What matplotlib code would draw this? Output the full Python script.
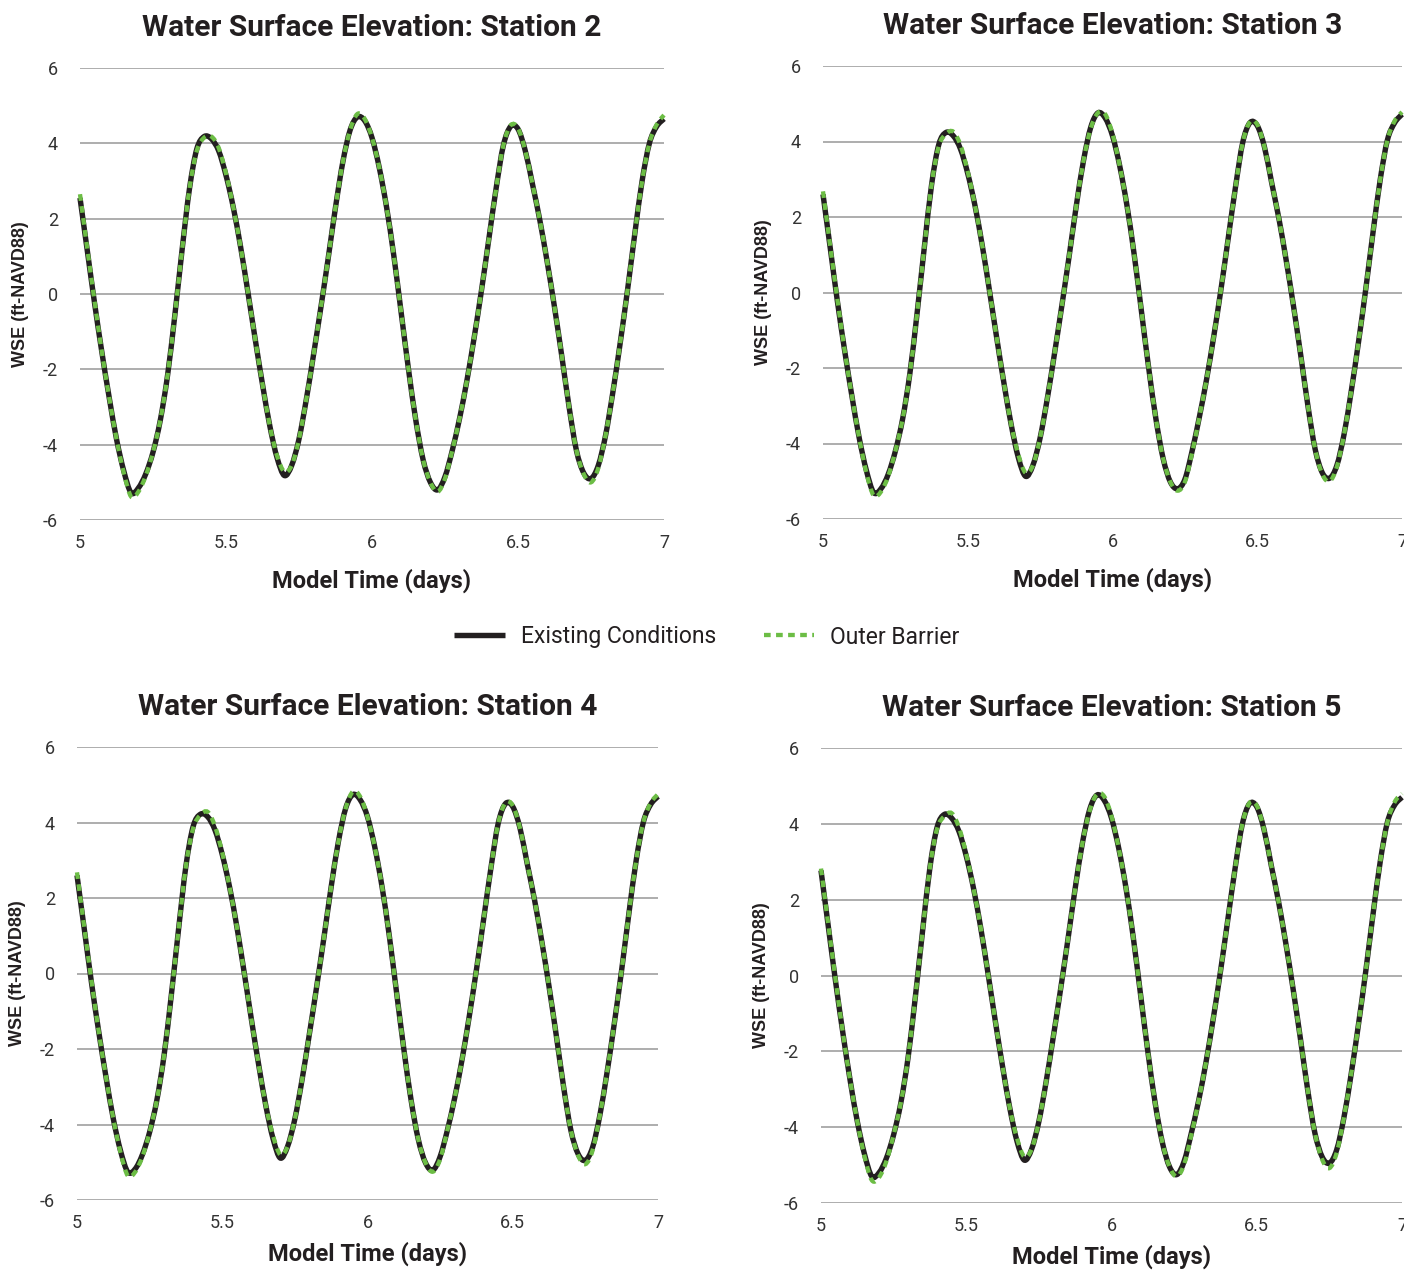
import matplotlib
matplotlib.use("Agg")
import matplotlib.pyplot as plt
from matplotlib.path import Path
from matplotlib.patches import PathPatch
from matplotlib.lines import Line2D

plt.rcParams["axes.unicode_minus"] = False

# ---- data ----
time_days = [round(5.0 + 0.025 * i, 3) for i in range(81)]

st2_existing = [2.55, 1.15, -0.25, -1.55, -2.75, -3.85, -4.70, -5.28, -5.15, -4.78,
                -4.20, -3.35, -2.15, -0.55, 1.20, 2.80, 3.85, 4.18, 4.12, 3.80,
                3.15, 2.30, 1.25, 0.05, -1.20, -2.40, -3.50, -4.35, -4.82, -4.55,
                -3.85, -2.80, -1.60, -0.35, 0.95, 2.30, 3.50, 4.35, 4.70, 4.60,
                4.15, 3.35, 2.30, 1.00, -0.50, -2.00, -3.35, -4.40, -5.00, -5.20,
                -4.85, -4.15, -3.30, -2.30, -1.15, 0.10, 1.45, 2.80, 3.95, 4.45,
                4.38, 3.80, 2.90, 1.95, 0.85, -0.35, -1.65, -3.00, -4.15, -4.75,
                -4.90, -4.55, -3.75, -2.60, -1.30, 0.10, 1.60, 3.00, 4.00, 4.45,
                4.65]
st2_outer = [2.65, 1.20, -0.20, -1.55, -2.75, -3.85, -4.75, -5.38, -5.25, -4.83,
             -4.20, -3.35, -2.15, -0.55, 1.20, 2.80, 3.80, 4.15, 4.18, 3.88,
             3.20, 2.30, 1.25, 0.05, -1.20, -2.40, -3.50, -4.30, -4.72, -4.55,
             -3.85, -2.80, -1.60, -0.35, 0.95, 2.30, 3.50, 4.35, 4.78, 4.65,
             4.15, 3.35, 2.30, 1.00, -0.50, -2.00, -3.35, -4.40, -5.00, -5.25,
             -4.90, -4.15, -3.30, -2.30, -1.15, 0.10, 1.45, 2.80, 3.95, 4.48,
             4.40, 3.80, 2.90, 1.95, 0.85, -0.35, -1.65, -3.00, -4.15, -4.78,
             -5.00, -4.62, -3.75, -2.60, -1.30, 0.10, 1.60, 3.00, 4.00, 4.50,
             4.75]

st3_existing = [2.60, 1.18, -0.25, -1.55, -2.75, -3.85, -4.72, -5.30, -5.20, -4.82,
                -4.20, -3.35, -2.15, -0.55, 1.20, 2.85, 3.92, 4.24, 4.15, 3.80,
                3.15, 2.30, 1.25, 0.05, -1.20, -2.40, -3.50, -4.38, -4.87, -4.58,
                -3.85, -2.80, -1.60, -0.35, 0.95, 2.30, 3.50, 4.38, 4.76, 4.62,
                4.15, 3.35, 2.30, 1.00, -0.50, -2.00, -3.35, -4.40, -5.02, -5.20,
                -4.95, -4.20, -3.30, -2.30, -1.15, 0.10, 1.45, 2.80, 3.98, 4.50,
                4.42, 3.85, 2.90, 1.95, 0.85, -0.35, -1.65, -3.00, -4.15, -4.78,
                -4.92, -4.58, -3.75, -2.60, -1.30, 0.10, 1.60, 3.00, 4.05, 4.50,
                4.72]
st3_outer = [2.68, 1.22, -0.20, -1.55, -2.75, -3.85, -4.78, -5.38, -5.28, -4.87,
             -4.20, -3.35, -2.15, -0.55, 1.20, 2.85, 3.88, 4.20, 4.26, 3.90,
             3.20, 2.30, 1.25, 0.05, -1.20, -2.40, -3.50, -4.30, -4.78, -4.58,
             -3.85, -2.80, -1.60, -0.35, 0.95, 2.30, 3.50, 4.35, 4.76, 4.72,
             4.20, 3.35, 2.30, 1.00, -0.50, -2.00, -3.35, -4.40, -5.02, -5.25,
             -5.02, -4.25, -3.30, -2.30, -1.15, 0.10, 1.45, 2.80, 3.98, 4.52,
             4.45, 3.85, 2.90, 1.95, 0.85, -0.35, -1.65, -3.00, -4.15, -4.82,
             -5.00, -4.62, -3.75, -2.60, -1.30, 0.10, 1.60, 3.00, 4.05, 4.55,
             4.78]

st4_existing = [2.60, 1.18, -0.25, -1.55, -2.75, -3.85, -4.70, -5.26, -5.18, -4.80,
                -4.20, -3.35, -2.15, -0.55, 1.20, 2.85, 3.90, 4.22, 4.15, 3.80,
                3.15, 2.30, 1.25, 0.05, -1.20, -2.40, -3.50, -4.38, -4.89, -4.58,
                -3.85, -2.80, -1.60, -0.35, 0.95, 2.30, 3.50, 4.38, 4.74, 4.60,
                4.15, 3.35, 2.30, 1.00, -0.50, -2.00, -3.35, -4.40, -5.02, -5.21,
                -4.85, -4.15, -3.30, -2.30, -1.15, 0.10, 1.45, 2.80, 3.98, 4.50,
                4.42, 3.85, 2.90, 1.95, 0.85, -0.35, -1.65, -3.00, -4.15, -4.78,
                -4.95, -4.60, -3.75, -2.60, -1.30, 0.10, 1.60, 3.00, 4.02, 4.48,
                4.69]
st4_outer = [2.68, 1.22, -0.20, -1.55, -2.75, -3.85, -4.75, -5.36, -5.26, -4.85,
             -4.20, -3.35, -2.15, -0.55, 1.20, 2.85, 3.85, 4.20, 4.28, 3.90,
             3.20, 2.30, 1.25, 0.05, -1.20, -2.40, -3.50, -4.30, -4.80, -4.58,
             -3.85, -2.80, -1.60, -0.35, 0.95, 2.30, 3.50, 4.38, 4.82, 4.68,
             4.15, 3.35, 2.30, 1.00, -0.50, -2.00, -3.35, -4.40, -5.02, -5.25,
             -4.92, -4.15, -3.30, -2.30, -1.15, 0.10, 1.45, 2.80, 3.98, 4.52,
             4.45, 3.85, 2.90, 1.95, 0.85, -0.35, -1.65, -3.00, -4.15, -4.82,
             -5.05, -4.68, -3.75, -2.60, -1.30, 0.10, 1.60, 3.00, 4.02, 4.52,
             4.75]

st5_existing = [2.77, 1.30, -0.15, -1.50, -2.75, -3.85, -4.72, -5.30, -5.20, -4.82,
                -4.20, -3.35, -2.15, -0.55, 1.20, 2.85, 3.92, 4.25, 4.15, 3.80,
                3.15, 2.30, 1.25, 0.05, -1.20, -2.40, -3.50, -4.38, -4.87, -4.58,
                -3.85, -2.80, -1.60, -0.35, 0.95, 2.30, 3.50, 4.38, 4.76, 4.62,
                4.15, 3.35, 2.30, 1.00, -0.50, -2.00, -3.35, -4.40, -5.05, -5.25,
                -4.90, -4.15, -3.30, -2.30, -1.15, 0.10, 1.45, 2.80, 3.98, 4.53,
                4.45, 3.85, 2.90, 1.95, 0.85, -0.35, -1.65, -3.00, -4.15, -4.78,
                -4.95, -4.60, -3.75, -2.60, -1.30, 0.10, 1.60, 3.00, 4.05, 4.50,
                4.70]
st5_outer = [2.82, 1.35, -0.10, -1.50, -2.75, -3.85, -4.78, -5.40, -5.32, -4.90,
             -4.20, -3.35, -2.15, -0.55, 1.20, 2.85, 3.88, 4.20, 4.28, 3.90,
             3.20, 2.30, 1.25, 0.05, -1.20, -2.40, -3.50, -4.30, -4.78, -4.58,
             -3.85, -2.80, -1.60, -0.35, 0.95, 2.30, 3.50, 4.35, 4.78, 4.72,
             4.20, 3.35, 2.30, 1.00, -0.50, -2.00, -3.35, -4.40, -5.05, -5.30,
             -4.98, -4.20, -3.30, -2.30, -1.15, 0.10, 1.45, 2.80, 3.98, 4.55,
             4.48, 3.85, 2.90, 1.95, 0.85, -0.35, -1.65, -3.00, -4.15, -4.85,
             -5.08, -4.68, -3.75, -2.60, -1.30, 0.10, 1.60, 3.00, 4.05, 4.58,
             4.80]

station_names = ["Station 2", "Station 3", "Station 4", "Station 5"]
existing_series = [st2_existing, st3_existing, st4_existing, st5_existing]
outer_series = [st2_outer, st3_outer, st4_outer, st5_outer]
series_labels = ["Existing Conditions", "Outer Barrier"]
y_ticks = [-6, -4, -2, 0, 2, 4, 6]
x_ticks = [5, 5.5, 6, 6.5, 7]
x_tick_labels = ["5", "5.5", "6", "6.5", "7"]


def smoothed_path(xs, ys):
    """Excel-style smoothed line: Bezier segments through every data point."""
    n = len(xs)
    verts = [(xs[0], ys[0])]
    codes = [Path.MOVETO]
    for i in range(n - 1):
        i0 = max(i - 1, 0)
        i3 = min(i + 2, n - 1)
        c1 = (xs[i] + (xs[i + 1] - xs[i0]) / 6.0, ys[i] + (ys[i + 1] - ys[i0]) / 6.0)
        c2 = (xs[i + 1] - (xs[i3] - xs[i]) / 6.0, ys[i + 1] - (ys[i3] - ys[i]) / 6.0)
        verts += [c1, c2, (xs[i + 1], ys[i + 1])]
        codes += [Path.CURVE4, Path.CURVE4, Path.CURVE4]
    return Path(verts, codes)


# ---- style ----
W, H = 1404, 1270
fig = plt.figure(figsize=(W / 100, H / 100), dpi=100)
fig.patch.set_facecolor("white")

title_font = ["Roboto", "DejaVu Sans"]
body_font = ["Roboto", "DejaVu Sans"]
label_font = ["Liberation Sans", "DejaVu Sans"]

black = "#231F20"
green = "#6CBD45"
grid_c = "#A7A7A7"
black_lw = 3.9
green_lw = 3.1
green_dash = (1.55, 1.25)

# pixel rects: left, right, top, bottom
rects_px = [(80, 664, 68, 520), (823, 1402, 66, 519),
            (77, 658, 747, 1200), (821, 1402, 748, 1203)]

for i, (name, ex, ob) in enumerate(zip(station_names, existing_series, outer_series)):
    l, r, t, b = rects_px[i]
    ax = fig.add_axes([l / W, 1 - b / H, (r - l) / W, (b - t) / H])
    ax.set_xlim(5, 7)
    ax.set_ylim(-6, 6)
    ax.set_yticks(y_ticks)
    ax.set_xticks(x_ticks)
    ax.set_xticklabels(x_tick_labels)
    for s in ax.spines.values():
        s.set_visible(False)
    ax.grid(axis="y", color=grid_c, linewidth=1.3)
    ax.set_axisbelow(True)
    ax.tick_params(axis="both", length=0, labelsize=13, colors="#333333")
    ax.tick_params(axis="x", pad=10)
    ax.tick_params(axis="y", pad=16)
    for lab in ax.get_xticklabels() + ax.get_yticklabels():
        lab.set_family(body_font)

    p1 = PathPatch(smoothed_path(time_days, ex), fill=False, edgecolor=black,
                   linewidth=black_lw, joinstyle="round", capstyle="butt",
                   clip_on=False, zorder=3)
    p2 = PathPatch(smoothed_path(time_days, ob), fill=False, edgecolor=green,
                   linewidth=green_lw, linestyle=(0, green_dash), capstyle="butt",
                   clip_on=False, zorder=4)
    ax.add_patch(p1)
    ax.add_patch(p2)

    ax.set_title("Water Surface Elevation: " + name, family=title_font,
                 fontsize=21.5, fontweight="bold", color=black, pad=23)
    ax.set_xlabel("Model Time (days)", family=title_font, fontsize=17,
                  fontweight="bold", color=black, labelpad=12 if i < 2 else 7)
    ax.set_ylabel("WSE (ft-NAVD88)", family=label_font, fontsize=13,
                  fontweight="bold", color=black, labelpad=10)

handles = [Line2D([], [], color=black, linewidth=black_lw, solid_capstyle="butt"),
           Line2D([], [], color=green, linewidth=green_lw, dashes=green_dash,
                  dash_capstyle="butt")]
leg = fig.legend(handles, series_labels, loc="center",
                 bbox_to_anchor=(707 / W, 1 - 637 / H),
                 ncol=2, frameon=False, handlelength=2.2, columnspacing=2.1,
                 handletextpad=0.7, prop={"family": body_font, "size": 16.5})
for txt in leg.get_texts():
    txt.set_color(black)

fig.savefig("out.png", dpi=100, facecolor="white")
